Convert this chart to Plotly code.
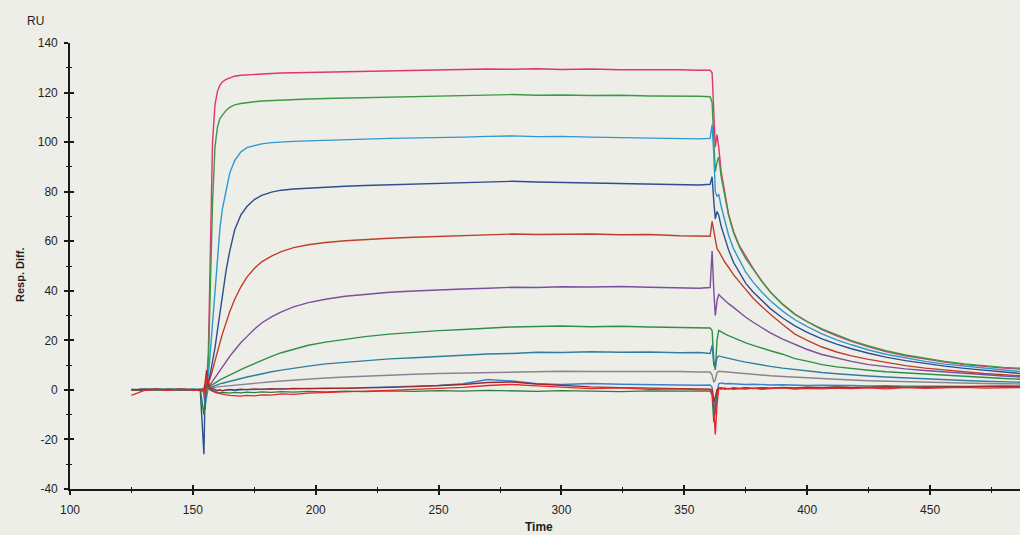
import plotly.graph_objects as go

# Sample times (s): baseline, association, dissociation
T_BASE = [125, 130, 135, 140, 145, 150, 153, 154.5]
T_ASSOC = [155, 155.6, 156.3, 157, 158, 159, 160, 161, 162, 163.5, 165, 167, 169.5, 172, 175,
           178, 182, 186, 191, 197, 204, 212, 220, 230, 240, 250, 260, 270, 280, 290,
           300, 312, 324, 336, 348, 356, 360.5]
T_DISS = [361.3, 362, 362.6, 363.3, 364, 365, 366.5, 368, 370, 372.5, 375, 378, 381.5, 385, 390,
          395, 400, 406, 412, 418, 425, 432, 440, 448, 456, 464, 472, 480, 487]
TIME = T_BASE + T_ASSOC + T_DISS

# Axis ticks
X_TICKS = [100, 150, 200, 250, 300, 350, 400, 450]
X_TICK_TEXT = ["100", "150", "200", "250", "300", "350", "400", "450"]
Y_TICKS = [-40, -20, 0, 20, 40, 60, 80, 100, 120, 140]
Y_TICK_TEXT = ["-40", "-20", "0", "20", "40", "60", "80", "100", "120", "140"]

# Response difference (RU) for each analyte concentration
RU_A = ([0, 0.2, 0.4, 0.1, 0.3, 0.2, 0, 0.5]
        + [1, 3, 15, 55, 100, 115, 120.5, 123, 124.3, 125.3, 126, 126.6, 127, 127.2, 127.4,
           127.6, 127.7, 127.9, 128, 128.3, 128.4, 128.6, 128.5, 128.8, 129, 129.1, 129.3, 129.5, 129.4, 129.6,
           129.3, 129.5, 129.2, 129.3, 129.2, 129, 129]
        + [128, 110, 98, 103, 98, 88, 79, 71, 64, 58, 54, 49, 44, 39.5, 34.5,
           30.5, 27.5, 24.3, 21.8, 19.6, 17.4, 15.5, 13.8, 12.4, 11.2, 10.2, 9.4, 8.8, 8.4])
RU_B = ([0.2, 0, 0.3, 0.1, 0, 0.2, 0.1, 0.3]
        + [1, 2, 10, 35, 75, 98, 106, 109.5, 111, 112.8, 114, 115, 115.6, 116, 116.3,
           116.6, 116.8, 117, 117.1, 117.4, 117.6, 117.8, 118, 118.2, 118.3, 118.5, 118.7, 119, 119.2, 118.9,
           119, 118.8, 118.9, 118.6, 118.7, 118.5, 118.3]
        + [116, 100, 88, 92, 94, 86, 78, 70.5, 63.5, 57.5, 53, 48.5, 43.8, 39.5, 34.6,
           30.6, 27.6, 24.6, 22.1, 19.9, 17.7, 15.8, 14.1, 12.7, 11.5, 10.5, 9.7, 9.1, 8.7])
RU_C = ([0, 0.2, 0, 0.3, 0.1, 0, 0.2, -1]
        + [-8, 2, 6, 14, 27, 42, 55, 65, 73, 81, 87.5, 92.5, 96, 97.8, 98.7,
           99.3, 99.8, 100.1, 100.3, 100.5, 100.8, 101, 101.2, 101.5, 101.6, 101.8, 102, 102.3, 102.5, 102.2,
           102.3, 102, 101.8, 101.6, 101.5, 101.3, 101.5]
        + [107, 95, 80, 78, 79, 74, 68, 62.5, 57, 52, 47.5, 43.5, 39.5, 36, 31.8,
           28.3, 25.5, 22.6, 20.2, 18.2, 16.1, 14.4, 12.8, 11.5, 10.4, 9.5, 8.7, 8, 7.4])
RU_D = ([0, 0.2, 0, 0.1, 0.3, 0, 0.2, -26]
        + [0.5, 1, 3, 6, 11, 17, 24, 31, 38, 48, 56, 64.5, 70.5, 74, 76.8,
           78.5, 79.8, 80.6, 81.1, 81.5, 81.9, 82.2, 82.5, 82.8, 83.1, 83.4, 83.6, 84, 84.2, 83.9,
           83.7, 83.5, 83.2, 83.1, 82.9, 82.7, 83]
        + [86, 76, 69, 72, 70.5, 66, 61, 56.5, 51.5, 47, 43, 39.5, 36, 32.8, 29,
           25.8, 23.2, 20.6, 18.5, 16.6, 14.8, 13.2, 11.8, 10.6, 9.6, 8.7, 7.9, 7.2, 6.6])
RU_E = ([0, 0.3, 0.1, 0, 0.2, 0.1, 0, 0.4]
        + [0.5, 1, 2.5, 4.5, 8, 12, 15.5, 19, 22.5, 27.5, 31.5, 36.5, 41.5, 45.5, 49,
           51.7, 54, 55.8, 57.4, 58.6, 59.5, 60.2, 60.7, 61.2, 61.6, 62, 62.3, 62.6, 62.9, 62.7,
           62.8, 62.9, 62.6, 62.7, 62.2, 62, 62]
        + [68, 64, 60, 57, 56, 54, 51.5, 49.5, 46.5, 43.5, 40.5, 37, 33.7, 30.5, 26.4,
           22.5, 20, 17.3, 15.3, 13.7, 12.3, 11, 9.8, 8.8, 8, 7.3, 6.6, 6.1, 5.7])
RU_F = ([0, 0.2, 0, 0.3, 0.1, 0, 0.2, 0]
        + [0.3, 0.5, 1, 2, 3.5, 5, 6.5, 8, 9.5, 11.5, 13.5, 16, 19, 21.5, 24.5,
           27, 29.5, 31.5, 33.5, 35.2, 36.6, 37.8, 38.6, 39.4, 39.9, 40.4, 40.7, 41, 41.4, 41.3,
           41.6, 41.5, 41.7, 41.4, 41.2, 41, 41.3]
        + [56, 40, 30, 36, 38.5, 37.5, 36, 34.8, 33.3, 31.3, 29.3, 27.3, 25, 23, 20.5,
           18.3, 16.3, 14.3, 12.8, 11.5, 10.2, 9.3, 8.5, 7.8, 7.2, 6.6, 6.1, 5.6, 5.2])
RU_G = ([0, 0.1, 0.3, 0, 0.2, 0.1, 0, 0.3]
        + [0.3, 0.5, 1, 1.5, 2.2, 2.8, 3.4, 4, 4.5, 5.3, 6, 7, 8.2, 9.3, 10.6,
           12, 13.5, 15, 16.5, 18, 19.3, 20.5, 21.5, 22.5, 23.3, 23.9, 24.4, 25, 25.4, 25.6,
           25.8, 25.5, 25.7, 25.4, 25.2, 25.3, 25]
        + [24, 12, 8, 20, 24, 23.3, 22.6, 21.9, 21, 20, 19, 18, 16.8, 15.8, 14.4,
           12.6, 11.6, 10.2, 9.3, 8.6, 7.9, 7.3, 6.8, 6.3, 5.8, 5.4, 5, 4.6, 4.3])
RU_H = ([0, 0.2, 0, 0.1, 0.3, 0, 0.1, 0.2]
        + [0, 0.3, 0.6, 0.9, 1.3, 1.7, 2.1, 2.4, 2.7, 3.1, 3.5, 4, 4.6, 5.2, 5.8,
           6.5, 7.3, 8, 8.8, 9.6, 10.5, 11.2, 11.8, 12.5, 13, 13.6, 14, 14.5, 14.7, 15.2,
           15.1, 15.4, 15.2, 15.3, 15, 15.1, 14.7]
        + [18, 10, 9, 13, 13.7, 13.4, 13, 12.6, 12.2, 11.7, 11.2, 10.6, 10, 9.5, 8.8,
           8.2, 7.6, 7, 6.5, 6, 5.6, 5.2, 4.8, 4.4, 4.1, 3.8, 3.5, 3.3, 3.1])
RU_I = ([0, 0.1, 0.2, 0, 0.1, 0.2, 0, 0.1]
        + [0, 0.2, 0.4, 0.6, 0.8, 1, 1.2, 1.3, 1.4, 1.6, 1.8, 2, 2.2, 2.4, 2.7,
           3, 3.3, 3.6, 4, 4.4, 4.8, 5.2, 5.6, 6, 6.3, 6.6, 6.8, 7, 7.2, 7.3,
           7.5, 7.4, 7.5, 7.3, 7.4, 7.2, 7.2]
        + [6, 3, 4, 7, 7.5, 7.4, 7.3, 7.1, 6.9, 6.7, 6.5, 6.2, 6, 5.7, 5.4,
           5.1, 4.8, 4.5, 4.2, 4, 3.7, 3.5, 3.3, 3.1, 2.9, 2.8, 2.6, 2.5, 2.4])
RU_J = ([0, 0.3, 0, 0.2, 0, 0.3, 0, -1]
        + [-6, -3, 1, 0.5, 0, -0.5, -0.3, 0, -0.4, -0.2, 0, -0.3, 0, 0.2, 0.1,
           0.3, 0.2, 0.5, 0.4, 0.6, 0.5, 0.8, 1, 1.2, 1.5, 1.8, 2.5, 4.2, 3.6, 2.5,
           2.2, 2.6, 2.3, 2.1, 2.2, 1.9, 2]
        + [1, -4, -10, -2, 2.5, 2.8, 2.5, 2.6, 2.4, 2.3, 2.2, 2.3, 2.1, 2, 2.1,
           1.9, 1.8, 1.9, 1.7, 1.8, 1.6, 1.7, 1.5, 1.6, 1.5, 1.4, 1.5, 1.4, 1.4])
RU_K = ([-2.2, -0.3, 0.2, -0.2, 0.3, 0, -0.3, 0.5]
        + [-3, 6, 3, 1, -0.5, -1, -1.3, -1.5, -1.8, -2, -2.2, -2.3, -2.5, -2.2, -2.4,
           -2, -2.1, -1.6, -1.8, -1.3, -1, -0.8, -0.5, -0.2, 0.2, 0.5, 1, 1.8, 2.2, 1.6,
           1, 0.5, 0.8, 0.2, 0.4, 0, 0.2]
        + [-1, -8, -18, -6, 0.5, 1, 0.3, 0.6, 0.2, 0.5, 0.3, 0.7, 0.2, 0.5, 0.8,
           0.3, 0.6, 0.4, 0.7, 0.5, 0.8, 0.4, 0.9, 0.6, 0.8, 1, 0.7, 0.9, 1])
RU_L = ([0, -0.2, 0, 0.2, -0.1, 0, 0.2, -10]
        + [-4, 2, 1, 0, -0.5, -0.8, -1, -1.2, -1, -1.1, -1.3, -1, -1.2, -0.9, -1.1,
           -0.8, -1, -0.7, -0.9, -0.6, -0.8, -0.5, -0.7, -0.4, -0.6, -0.3, -0.5, -0.2, -0.4, -0.6,
           -0.3, -0.5, -0.7, -0.4, -0.6, -0.5, -0.4]
        + [-2, -13, -6, 0, 0.5, 0.3, 0.6, 0.4, 0.7, 0.5, 0.8, 0.6, 0.9, 0.7, 1,
           0.8, 1.1, 0.9, 1.2, 1, 1.1, 1.3, 1.1, 1.2, 1.4, 1.2, 1.3, 1.5, 1.3])
RU_M = ([0.2, 0, 0.3, 0, 0.2, 0, 0.1, 0]
        + [3, 8, 2, 1, 0.5, 0, -0.2, 0, -0.3, 0, 0.2, 0, 0.3, 0.1, 0.4,
           0.2, 0.5, 0.3, 0.6, 0.5, 0.7, 0.6, 0.9, 1, 1.3, 1.6, 2.2, 3, 3.2, 2.4,
           1.8, 1.2, 0.9, 0.7, 0.5, 0.4, 0.3]
        + [0, -5, -3, 0, 0.8, 0.5, 0.7, 0.4, 0.8, 0.6, 0.9, 0.5, 0.8, 0.6, 0.9,
           0.7, 1, 0.8, 1.1, 0.9, 1, 1.2, 1, 1.1, 1.3, 1.2, 1.4, 1.3, 1.5])

SERIES = [
    (RU_A, "#e0356e"), (RU_B, "#3b9b45"), (RU_C, "#2f98cf"), (RU_D, "#2b4f8e"),
    (RU_E, "#bf3f2b"), (RU_F, "#7d4e9c"), (RU_G, "#2e8f47"), (RU_H, "#2e7f9f"),
    (RU_I, "#8b8391"), (RU_J, "#3b7fd1"), (RU_L, "#2e7d3c"), (RU_M, "#9a2a2a"),
    (RU_K, "#e8262a"),
]

for vals, _ in SERIES:
    assert len(vals) == len(TIME)

BG = "#eeeee8"
INK = "#1a1a1a"
TXT = "#1f1f1f"
FONT = "Liberation Sans, Arial, sans-serif"

fig = go.Figure()
for vals, color in SERIES:
    fig.add_trace(go.Scatter(x=TIME, y=vals, mode="lines",
                             line=dict(color=color, width=1.4),
                             showlegend=False, hoverinfo="skip"))

# companion axes carry the inner half of each tick so ticks cross the axis line
fig.add_trace(go.Scatter(x=[None], y=[None], xaxis="x2", yaxis="y2",
                         showlegend=False, hoverinfo="skip"))

X_RANGE = [100, 486.6]
Y_RANGE = [-40, 140]

axis_common = dict(showgrid=False, zeroline=False, tickcolor=INK, tickwidth=1.5, ticklen=4)

fig.update_layout(
    width=1020, height=535,
    margin=dict(l=70, r=0, t=43, b=46),
    paper_bgcolor=BG, plot_bgcolor=BG,
    font=dict(family=FONT, color=TXT, size=12),
    xaxis=dict(range=X_RANGE, tickvals=X_TICKS, ticktext=X_TICK_TEXT, ticks="outside",
               showline=True, linecolor=INK, linewidth=1.6,
               minor=dict(dtick=25, tick0=100, ticks="outside", ticklen=2, tickwidth=1.2, tickcolor=INK),
               tickfont=dict(size=12, family=FONT, color=TXT),
               ticklabelstandoff=5, **axis_common),
    yaxis=dict(range=Y_RANGE, tickvals=Y_TICKS, ticktext=Y_TICK_TEXT, ticks="outside",
               showline=True, linecolor=INK, linewidth=1.6,
               minor=dict(dtick=10, tick0=0, ticks="outside", ticklen=2, tickwidth=1.2, tickcolor=INK),
               tickfont=dict(size=12, family=FONT, color=TXT),
               ticklabelstandoff=4, **axis_common),
    xaxis2=dict(range=X_RANGE, overlaying="x", anchor="y2", side="bottom",
                tickvals=X_TICKS, ticks="inside", showticklabels=False, showline=False,
                minor=dict(dtick=25, tick0=100, ticks="inside", ticklen=2, tickwidth=1.2, tickcolor=INK),
                **axis_common),
    yaxis2=dict(range=Y_RANGE, overlaying="y", anchor="x2", side="left",
                tickvals=Y_TICKS, ticks="inside", showticklabels=False, showline=False,
                minor=dict(dtick=10, tick0=0, ticks="inside", ticklen=2, tickwidth=1.2, tickcolor=INK),
                **axis_common),
    annotations=[
        dict(text="RU", xref="paper", yref="paper", x=-0.0358, y=1.05,
             xanchor="center", yanchor="middle",
             showarrow=False, font=dict(size=12, family=FONT, color=TXT)),
        dict(text="<b>Resp. Diff.</b>", xref="paper", yref="paper", x=-0.0526, y=0.48,
             xanchor="center", yanchor="middle",
             textangle=-90, showarrow=False, font=dict(size=11, family=FONT, color=TXT)),
        dict(text="<b>Time</b>", xref="paper", yref="paper", x=0.4937, y=-0.0845,
             xanchor="center", yanchor="middle",
             showarrow=False, font=dict(size=12, family=FONT, color=TXT)),
    ],
)

fig.write_html("out.html")
